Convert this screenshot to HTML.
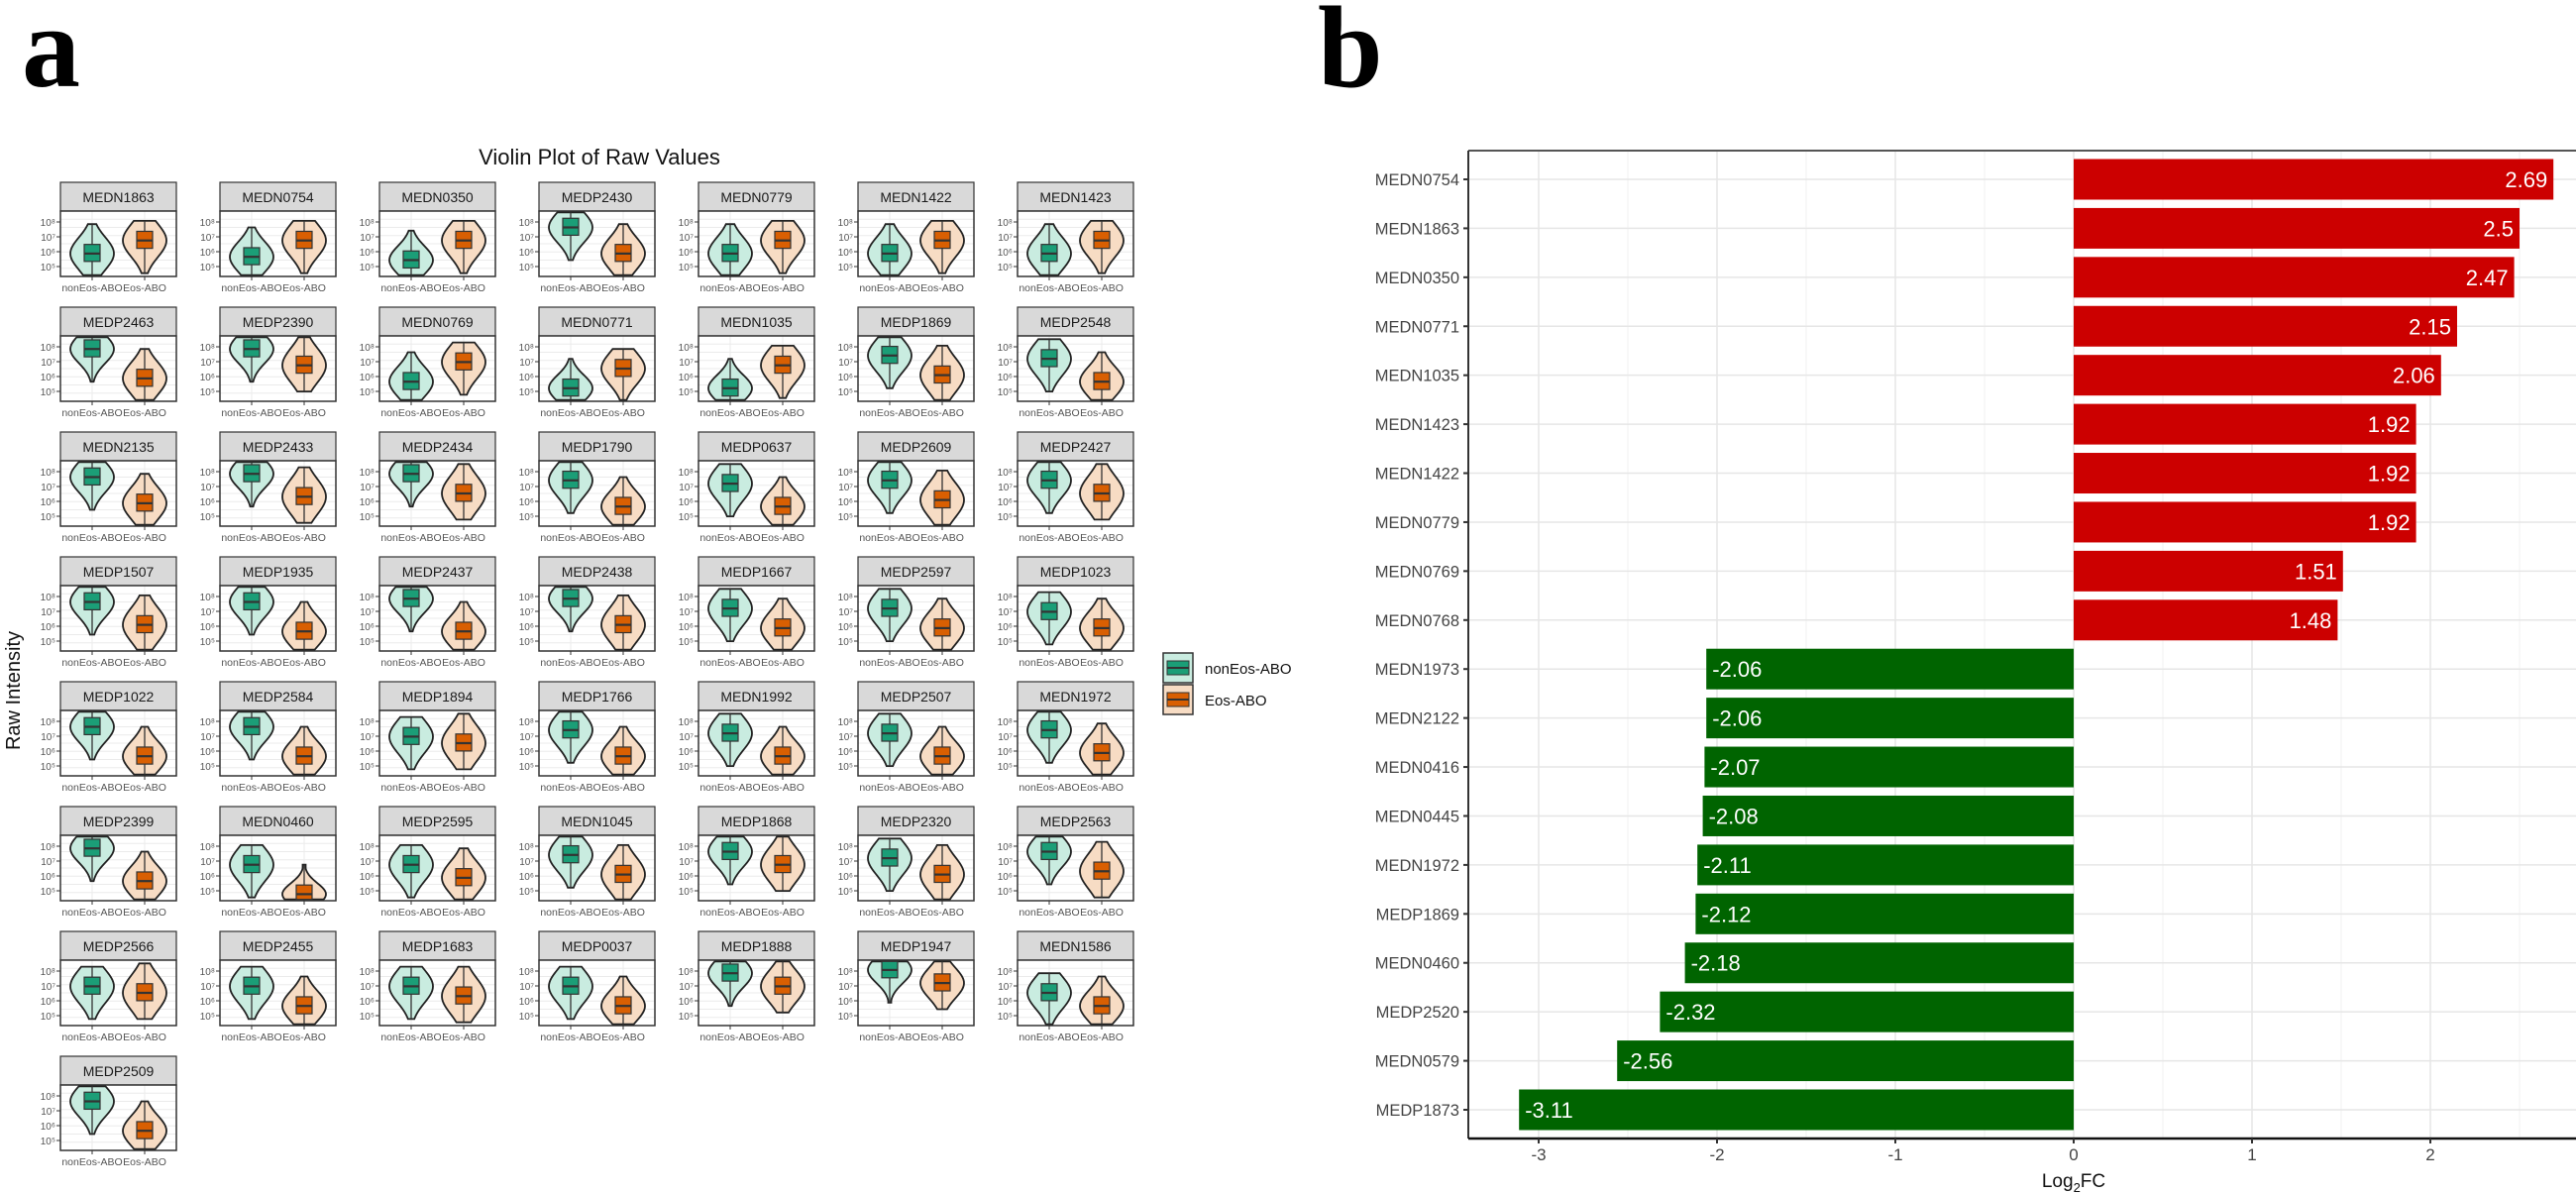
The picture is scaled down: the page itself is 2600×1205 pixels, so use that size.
<!DOCTYPE html>
<html><head><meta charset="utf-8"><style>
body{margin:0;background:#fff}
svg{display:block;font-family:"Liberation Sans",sans-serif}
</style></head><body>
<svg id="fig" width="2600" height="1205" viewBox="0 0 2600 1205" xmlns="http://www.w3.org/2000/svg">
<text x="22" y="87" font-family="Liberation Serif,serif" font-weight="bold" font-size="118">a</text>
<text x="1330" y="87" font-family="Liberation Serif,serif" font-weight="bold" font-size="118">b</text>
<text x="605" y="166" text-anchor="middle" font-size="22" fill="#111">Violin Plot of Raw Values</text>
<text transform="translate(20,697) rotate(-90)" text-anchor="middle" font-size="20" fill="#111">Raw Intensity</text>
<g id="violins"></g>
<g>
 <g>
  <rect x="1174" y="659" width="30" height="30" fill="#c9ece0" stroke="#333" stroke-width="1.5"/>
  <rect x="1178" y="667" width="22" height="14" fill="#1b9e77" stroke="#333"/>
  <line x1="1178" y1="674" x2="1200" y2="674" stroke="#333" stroke-width="2"/>
  <text x="1216" y="680" font-size="15" fill="#111">nonEos-ABO</text>
 </g>
 <g>
  <rect x="1174" y="691" width="30" height="30" fill="#f7dcc4" stroke="#333" stroke-width="1.5"/>
  <rect x="1178" y="699" width="22" height="14" fill="#d95f02" stroke="#333"/>
  <line x1="1178" y1="706" x2="1200" y2="706" stroke="#333" stroke-width="2"/>
  <text x="1216" y="712" font-size="15" fill="#111">Eos-ABO</text>
 </g>
</g>
<g id="bars"></g>
</svg>
<script>
// ---- violin data (fractions of panel height, 0=bottom) ----
const panelNames = ["MEDN1863","MEDN0754","MEDN0350","MEDP2430","MEDN0779","MEDN1422","MEDN1423",
"MEDP2463","MEDP2390","MEDN0769","MEDN0771","MEDN1035","MEDP1869","MEDP2548",
"MEDN2135","MEDP2433","MEDP2434","MEDP1790","MEDP0637","MEDP2609","MEDP2427",
"MEDP1507","MEDP1935","MEDP2437","MEDP2438","MEDP1667","MEDP2597","MEDP1023",
"MEDP1022","MEDP2584","MEDP1894","MEDP1766","MEDN1992","MEDP2507","MEDN1972",
"MEDP2399","MEDN0460","MEDP2595","MEDN1045","MEDP1868","MEDP2320","MEDP2563",
"MEDP2566","MEDP2455","MEDP1683","MEDP0037","MEDP1888","MEDP1947","MEDN1586",
"MEDP2509"];
const nonMed = [.35,.3,.25,.75,.35,.35,.35, .8,.8,.3,.2,.2,.7,.65, .75,.8,.8,.7,.65,.7,.7,
 .75,.75,.8,.8,.65,.65,.6, .75,.75,.6,.7,.65,.65,.7, .8,.55,.55,.7,.75,.65,.75, .6,.6,.6,.6,.8,.85,.5, .75];
const eosMed = [.55,.55,.55,.35,.55,.55,.55, .35,.55,.6,.5,.55,.4,.3, .35,.45,.5,.3,.3,.4,.5,
 .4,.3,.3,.4,.35,.35,.35, .3,.3,.5,.3,.3,.3,.35, .3,.1,.35,.4,.55,.4,.45, .5,.3,.45,.3,.6,.65,.3, .3];
const tickLabels = ["10⁵","10⁶","10⁷","10⁸"];

const NS="http://www.w3.org/2000/svg";
function mk(tag,attrs,parent){const e=document.createElementNS(NS,tag);for(const k in attrs)e.setAttribute(k,attrs[k]);parent.appendChild(e);return e;}
const vg=document.getElementById('violins');
const PW=117, SH=29, PH=66, COLP=161, ROWP=126, X0=61, Y0=184;
function violin(g,cx,top,med,fill,boxFill,down){
  const y=f=>top+PH-f*PH;
  const lo=Math.max(0.02,med-(down?0.5:0.4)), hi=Math.min(0.98,med+(down?0.3:0.45));
  const pts=[],n=24,W=22;
  for(let i=0;i<=n;i++){const f=lo+(hi-lo)*i/n;const d=(f-med)/((hi-lo)*0.45);let w=W*Math.exp(-d*d);w=Math.max(w,1.5);pts.push([cx+w,y(f)]);}
  const left=pts.slice().reverse().map(p=>[2*cx-p[0],p[1]]);
  mk('polygon',{points:pts.concat(left).map(p=>p.join(',')).join(' '),fill:fill,stroke:'#222','stroke-width':1.8},g);
  mk('line',{x1:cx,x2:cx,y1:y(lo),y2:y(hi),stroke:'#333','stroke-width':1.3},g);
  const q1=Math.max(lo,med-0.12),q3=Math.min(hi,med+0.14);
  mk('rect',{x:cx-8,y:y(q3),width:16,height:y(q1)-y(q3),fill:boxFill,stroke:'#333','stroke-width':1.2},g);
  mk('line',{x1:cx-8,x2:cx+8,y1:y(med),y2:y(med),stroke:'#333','stroke-width':2.2},g);
}
panelNames.forEach((nm,i)=>{
  const c=i%7,r=Math.floor(i/7);
  const x=X0+c*COLP, y=Y0+r*ROWP, top=y+SH;
  const g=mk('g',{},vg);
  
  
  const s=mk('rect',{x:x,y:y,width:PW,height:SH,fill:'#d9d9d9',stroke:'#333','stroke-width':1.2},g);
  
  
  const t=mk('text',{x:x+PW/2,y:y+20,'text-anchor':'middle','font-size':14,fill:'#1a1a1a'},g);t.textContent=nm;
  mk('rect',{x:x,y:top,width:PW,height:PH,fill:'#fff'},g);
  for(let k=1;k<8;k++)mk('line',{x1:x,x2:x+PW,y1:top+k*PH/8,y2:top+k*PH/8,stroke:'#ebebeb','stroke-width':1},g);
  mk('line',{x1:x+32,x2:x+32,y1:top,y2:top+PH,stroke:'#ebebeb'},g);
  mk('line',{x1:x+85,x2:x+85,y1:top,y2:top+PH,stroke:'#ebebeb'},g);
  violin(g,x+32,top,nonMed[i],'#c9ece0','#1b9e77',nonMed[i]>eosMed[i]);
  violin(g,x+85,top,eosMed[i],'#f7dcc4','#d95f02',eosMed[i]>nonMed[i]);
  mk('rect',{x:x,y:top,width:PW,height:PH,fill:'none',stroke:'#333','stroke-width':1.5},g);
  tickLabels.forEach((tl,k)=>{const ty=top+PH-10-k*15;
    mk('line',{x1:x-4,x2:x,y1:ty,y2:ty,stroke:'#333'},g);
    const tt=mk('text',{x:x-5,y:ty+4,'text-anchor':'end','font-size':10,fill:'#555'},g);tt.textContent=tl;});
  [[32,'nonEos-ABO'],[85,'Eos-ABO']].forEach(([dx,l])=>{
    mk('line',{x1:x+dx,x2:x+dx,y1:top+PH,y2:top+PH+4,stroke:'#333'},g);
    const tt=mk('text',{x:x+dx,y:top+PH+15,'text-anchor':'middle','font-size':10.5,fill:'#555'},g);tt.textContent=l;});
});

// ---- bar chart data ----
const barNames=["MEDN0754","MEDN1863","MEDN0350","MEDN0771","MEDN1035","MEDN1423","MEDN1422","MEDN0779","MEDN0769","MEDN0768",
"MEDN1973","MEDN2122","MEDN0416","MEDN0445","MEDN1972","MEDP1869","MEDN0460","MEDP2520","MEDN0579","MEDP1873"];
const barValues=[2.69,2.5,2.47,2.15,2.06,1.92,1.92,1.92,1.51,1.48,-2.06,-2.06,-2.07,-2.08,-2.11,-2.12,-2.18,-2.32,-2.56,-3.11];
const xTicks=[-3,-2,-1,0,1,2];
const bg=document.getElementById('bars');
const PL=1482,PT=152,PR=2600,PB=1149;
const xs=v=>2093+v*180;
const ys=i=>181+i*((1120-181)/19);
const bandH=41;
for(let v=-3.5;v<=3;v+=0.5){const isMaj=Number.isInteger(v);if(xs(v)<PL||xs(v)>PR)continue;
  const l=mk('line',{x1:xs(v),x2:xs(v),y1:PT,y2:PB,stroke:isMaj?'#e6e6e6':'#f2f2f2','stroke-width':isMaj?1.5:1},bg);
  }
barNames.forEach((n,i)=>{mk('line',{x1:PL,x2:PR,y1:ys(i),y2:ys(i),stroke:'#e6e6e6','stroke-width':1.5},bg);});
barNames.forEach((n,i)=>{
  const v=barValues[i];
  const r=mk('rect',{x:Math.min(xs(0),xs(v)),y:ys(i)-bandH/2,width:Math.abs(xs(v)-xs(0)),height:bandH,fill:v>0?'#cc0000':'#006400'},bg);
  
  
  const t=mk('text',{x:v>0?xs(v)-6:xs(v)+6,y:ys(i)+8,'text-anchor':v>0?'end':'start','font-size':22,fill:'#fff'},bg);
  t.textContent=String(v);
  
  
  mk('line',{x1:PL-5,x2:PL,y1:ys(i),y2:ys(i),stroke:'#333','stroke-width':2},bg);
  const yl=mk('text',{x:PL-9,y:ys(i)+6,'text-anchor':'end','font-size':16.5,fill:'#444'},bg);
  yl.textContent=n;
  
  
});
mk('line',{x1:PL,x2:PR,y1:PT,y2:PT,stroke:'#555','stroke-width':2},bg);
mk('line',{x1:PL,x2:PL,y1:PT,y2:PB,stroke:'#333','stroke-width':2},bg);
mk('line',{x1:PL,x2:PR,y1:PB,y2:PB,stroke:'#111','stroke-width':2.5},bg);
xTicks.forEach(v=>{
  mk('line',{x1:xs(v),x2:xs(v),y1:PB,y2:PB+5,stroke:'#333','stroke-width':2},bg);
  const t=mk('text',{x:xs(v),y:PB+22,'text-anchor':'middle','font-size':17,fill:'#444'},bg);
  t.textContent=String(v).replace('-','-');
  
  
});
const xt=mk('text',{x:2093,y:1198,'text-anchor':'middle','font-size':19,fill:'#111'},bg);
xt.innerHTML='Log<tspan font-size="13" dy="5">2</tspan><tspan dy="-5">FC</tspan>';


</script>
</body></html>
